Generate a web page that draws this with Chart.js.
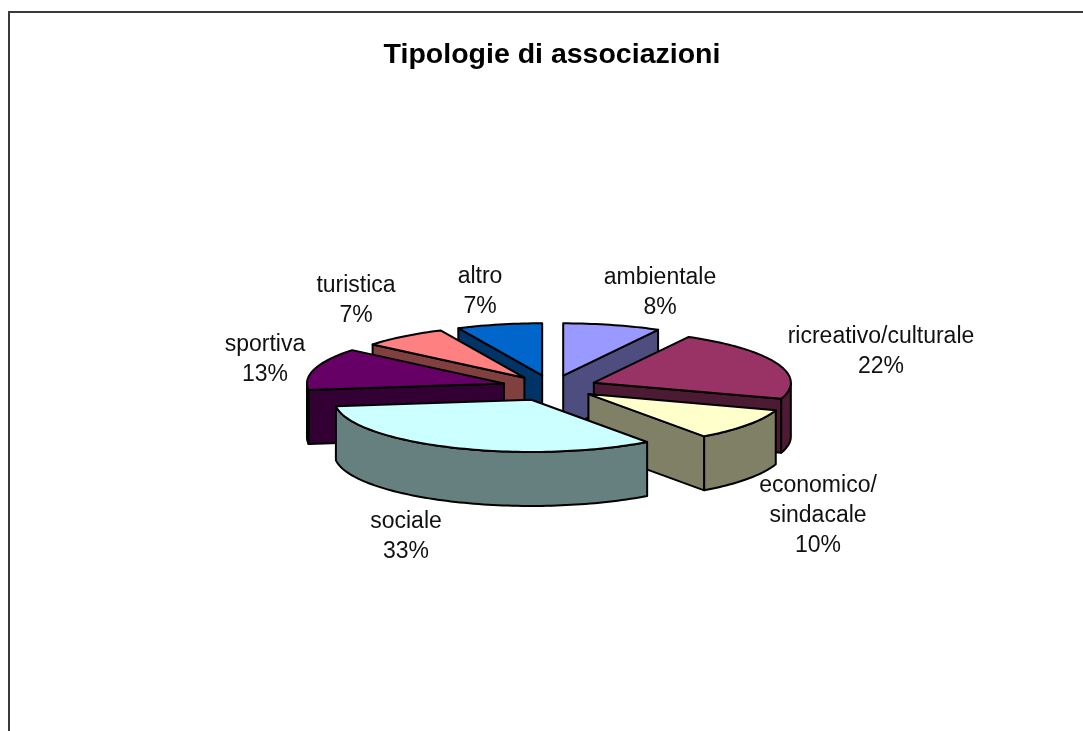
<!DOCTYPE html>
<html lang="it">
<head>
<meta charset="utf-8">
<title>Tipologie di associazioni</title>
<script src="https://cdn.jsdelivr.net/npm/chart.js@4"></script>
<style>
  html, body { margin: 0; padding: 0; background: #fff; overflow: hidden; }
  canvas { display: block; }
</style>
</head>
<body>
<canvas id="pieChart" width="1083" height="731"></canvas>
<script>
const chartTitle = 'Tipologie di associazioni';
const categories = [
  'ambientale',
  'ricreativo/culturale',
  ['economico/', 'sindacale'],
  'sociale',
  'sportiva',
  'turistica',
  'altro'
];
const percentages = [8, 22, 10, 33, 13, 7, 7];

const topColors = ['#9999ff', '#993366', '#ffffcc', '#ccffff', '#660066', '#ff8080', '#0066cc'];
const sideColors = ['#4d4d80', '#4d1a33', '#808066', '#668080', '#330033', '#804040', '#003366'];

// how far each slice is pulled out of the pie
const sliceOffsets = [45, 45, 45, 52, 50, 45, 45];
// centre of each label block, x and y of the first line
const labelPlaces = [[660, 278], [881, 337], [818, 486], [406, 522], [265, 345], [356, 286], [480, 277]];

const TILT = 0.265;
const DEPTH = 54;
const LABEL_FONT = '23px "Liberation Sans", Arial, sans-serif';
const LINE_HEIGHT = 30;

// squash a point of the flat pie into the tilted view
function project(arc, angle) {
  const mid = (arc.startAngle + arc.endAngle) / 2;
  const offset = arc.options.offset;
  return {
    x: arc.x + offset * Math.cos(mid) + arc.outerRadius * Math.cos(angle),
    y: arc.y + TILT * (offset * Math.sin(mid) + arc.outerRadius * Math.sin(angle))
  };
}

function apex(arc) {
  const mid = (arc.startAngle + arc.endAngle) / 2;
  const offset = arc.options.offset;
  return { x: arc.x + offset * Math.cos(mid), y: arc.y + TILT * offset * Math.sin(mid) };
}

function paint(ctx, fill) {
  ctx.closePath();
  ctx.fillStyle = fill;
  ctx.fill();
  ctx.stroke();
}

function drawRadialWall(ctx, arc, angle, fill) {
  const a = apex(arc);
  const p = project(arc, angle);
  ctx.beginPath();
  ctx.moveTo(a.x, a.y);
  ctx.lineTo(p.x, p.y);
  ctx.lineTo(p.x, p.y + DEPTH);
  ctx.lineTo(a.x, a.y + DEPTH);
  paint(ctx, fill);
}

function arcAngles(from, to) {
  const angles = [];
  const steps = Math.max(2, Math.ceil((to - from) * 40));
  for (let i = 0; i <= steps; i++) angles.push(from + (to - from) * i / steps);
  return angles;
}

function drawOuterWall(ctx, arc, fill) {
  // only the part facing the viewer, where sin(angle) > 0
  const from = Math.max(arc.startAngle, 0);
  const to = Math.min(arc.endAngle, Math.PI);
  if (to <= from) return;
  const angles = arcAngles(from, to);
  ctx.beginPath();
  angles.forEach((angle, i) => {
    const p = project(arc, angle);
    if (i === 0) ctx.moveTo(p.x, p.y);
    else ctx.lineTo(p.x, p.y);
  });
  angles.reverse().forEach(angle => {
    const p = project(arc, angle);
    ctx.lineTo(p.x, p.y + DEPTH);
  });
  paint(ctx, fill);
}

function drawTop(ctx, arc, fill) {
  const a = apex(arc);
  ctx.beginPath();
  ctx.moveTo(a.x, a.y);
  arcAngles(arc.startAngle, arc.endAngle).forEach(angle => {
    const p = project(arc, angle);
    ctx.lineTo(p.x, p.y);
  });
  paint(ctx, fill);
}

const tiltedPie = {
  id: 'tiltedPie',
  beforeDatasetDraw(chart, args) {
    const ctx = chart.ctx;
    const arcs = args.meta.data.map((arc, index) => ({ arc, index }));
    // back slices first
    arcs.sort((a, b) => apex(a.arc).y - apex(b.arc).y);
    ctx.save();
    ctx.strokeStyle = '#000';
    ctx.lineWidth = 2;
    ctx.lineJoin = 'round';
    arcs.forEach(({ arc, index }) => {
      if (-Math.cos(arc.startAngle) > 0) drawRadialWall(ctx, arc, arc.startAngle, sideColors[index]);
      if (Math.cos(arc.endAngle) > 0) drawRadialWall(ctx, arc, arc.endAngle, sideColors[index]);
      drawOuterWall(ctx, arc, sideColors[index]);
      drawTop(ctx, arc, topColors[index]);
    });
    ctx.restore();
    return false;
  },
  afterDatasetsDraw(chart) {
    const ctx = chart.ctx;
    ctx.save();
    ctx.font = LABEL_FONT;
    ctx.fillStyle = '#111';
    ctx.textAlign = 'center';
    ctx.textBaseline = 'middle';
    categories.forEach((category, i) => {
      const lines = [].concat(category, percentages[i] + '%');
      lines.forEach((line, n) => {
        ctx.fillText(line, labelPlaces[i][0], labelPlaces[i][1] + n * LINE_HEIGHT);
      });
    });
    ctx.restore();
  }
};

const chartFrame = {
  id: 'chartFrame',
  beforeDraw(chart) {
    const ctx = chart.ctx;
    ctx.save();
    ctx.fillStyle = '#fff';
    ctx.fillRect(0, 0, chart.width, chart.height);
    ctx.strokeStyle = '#3a3a3a';
    ctx.lineWidth = 2;
    ctx.beginPath();
    ctx.moveTo(9, chart.height);
    ctx.lineTo(9, 12);
    ctx.lineTo(chart.width, 12);
    ctx.stroke();
    ctx.restore();
  }
};

new Chart(document.getElementById('pieChart'), {
  type: 'pie',
  data: {
    labels: categories,
    datasets: [
      {
        data: percentages,
        backgroundColor: topColors,
        offset: sliceOffsets,
        borderWidth: 0
      }
    ]
  },
  options: {
    responsive: false,
    animation: false,
    radius: 197,
    layout: { padding: { left: 21, top: 0, right: 0, bottom: 29 } },
    events: [],
    plugins: {
      legend: { display: false },
      tooltip: { enabled: false },
      title: {
        display: true,
        text: chartTitle,
        color: '#000',
        font: { family: '"Liberation Sans", Arial, sans-serif', size: 28.5, weight: 'bold' },
        padding: { top: 38, bottom: 0 }
      }
    }
  },
  plugins: [chartFrame, tiltedPie]
});
</script>
</body>
</html>
